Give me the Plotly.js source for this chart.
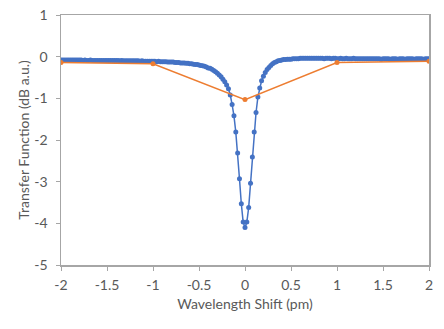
<!DOCTYPE html>
<html><head><meta charset="utf-8">
<script src="https://cdn.plot.ly/plotly-3.0.1.min.js"></script>
<style>html,body{margin:0;padding:0;background:#fff}#c{width:444px;height:329px;outline:1px solid #d9d9d9;outline-offset:-1px}</style>
</head><body><div id="c"></div>
<script>
const measX = [
-2,-1.98,-1.96,-1.94,-1.92,-1.9,-1.88,-1.86,-1.84,-1.82,
-1.8,-1.78,-1.76,-1.74,-1.72,-1.7,-1.68,-1.66,-1.64,-1.62,
-1.6,-1.58,-1.56,-1.54,-1.52,-1.5,-1.48,-1.46,-1.44,-1.42,
-1.4,-1.38,-1.36,-1.34,-1.32,-1.3,-1.28,-1.26,-1.24,-1.22,
-1.2,-1.18,-1.16,-1.14,-1.12,-1.1,-1.08,-1.06,-1.04,-1.02,
-1,-0.98,-0.96,-0.94,-0.92,-0.9,-0.88,-0.86,-0.84,-0.82,
-0.8,-0.78,-0.76,-0.74,-0.72,-0.7,-0.68,-0.66,-0.64,-0.62,
-0.6,-0.58,-0.56,-0.54,-0.52,-0.5,-0.48,-0.46,-0.44,-0.42,
-0.4,-0.38,-0.36,-0.34,-0.32,-0.3,-0.28,-0.26,-0.24,-0.22,
-0.2,-0.18,-0.16,-0.14,-0.12,-0.1,-0.08,-0.06,-0.04,-0.02,
0,
0.02,0.04,0.06,0.08,0.1,0.12,0.14,0.16,0.18,0.2,
0.22,0.24,0.26,0.28,0.3,0.32,0.34,0.36,0.38,0.4,
0.42,0.44,0.46,0.48,0.5,0.52,0.54,0.56,0.58,0.6,
0.62,0.64,0.66,0.68,0.7,0.72,0.74,0.76,0.78,0.8,
0.82,0.84,0.86,0.88,0.9,0.92,0.94,0.96,0.98,1,
1.02,1.04,1.06,1.08,1.1,1.12,1.14,1.16,1.18,1.2,
1.22,1.24,1.26,1.28,1.3,1.32,1.34,1.36,1.38,1.4,
1.42,1.44,1.46,1.48,1.5,1.52,1.54,1.56,1.58,1.6,
1.62,1.64,1.66,1.68,1.7,1.72,1.74,1.76,1.78,1.8,
1.82,1.84,1.86,1.88,1.9,1.92,1.94,1.96,1.98,2
];
const measY = [
-0.08,-0.08,-0.08,-0.08,-0.08,-0.08,-0.08,-0.08,-0.08,-0.08,
-0.08,-0.08,-0.09,-0.08,-0.09,-0.09,-0.08,-0.09,-0.09,-0.09,
-0.09,-0.09,-0.09,-0.09,-0.09,-0.09,-0.09,-0.09,-0.09,-0.09,
-0.09,-0.09,-0.10,-0.09,-0.10,-0.10,-0.10,-0.10,-0.10,-0.10,
-0.10,-0.10,-0.10,-0.11,-0.10,-0.11,-0.11,-0.11,-0.11,-0.11,
-0.11,-0.11,-0.12,-0.11,-0.12,-0.12,-0.12,-0.12,-0.13,-0.13,
-0.13,-0.13,-0.14,-0.14,-0.14,-0.15,-0.15,-0.15,-0.16,-0.16,
-0.17,-0.17,-0.18,-0.19,-0.19,-0.20,-0.21,-0.22,-0.23,-0.25,
-0.27,-0.28,-0.30,-0.33,-0.36,-0.40,-0.44,-0.48,-0.54,-0.60,
-0.68,-0.77,-0.92,-1.15,-1.42,-1.81,-2.31,-2.93,-3.53,-3.97,
-4.10,
-3.97,-3.62,-3.04,-2.41,-1.81,-1.34,-0.97,-0.75,-0.58,-0.47,
-0.38,-0.31,-0.26,-0.21,-0.17,-0.14,-0.12,-0.10,-0.09,-0.08,
-0.07,-0.07,-0.06,-0.06,-0.06,-0.05,-0.05,-0.05,-0.05,-0.04,
-0.04,-0.04,-0.04,-0.04,-0.04,-0.04,-0.04,-0.04,-0.04,-0.04,
-0.04,-0.04,-0.05,-0.04,-0.04,-0.04,-0.05,-0.04,-0.04,-0.05,
-0.05,-0.04,-0.05,-0.05,-0.04,-0.05,-0.05,-0.05,-0.04,-0.05,
-0.05,-0.05,-0.05,-0.05,-0.05,-0.05,-0.05,-0.05,-0.05,-0.05,
-0.05,-0.05,-0.05,-0.06,-0.05,-0.05,-0.05,-0.05,-0.06,-0.05,
-0.05,-0.05,-0.06,-0.05,-0.05,-0.05,-0.06,-0.05,-0.05,-0.05,
-0.05,-0.06,-0.05,-0.05,-0.05,-0.05,-0.06,-0.05,-0.05,-0.05
];
const sampX = [-2, -1, 0, 1, 2];
const sampY = [-0.14, -0.17, -1.03, -0.14, -0.11];
const xTickVals = [-2, -1.5, -1, -0.5, 0, 0.5, 1, 1.5, 2];
const xTickText = ["-2", "-1.5", "-1", "-0.5", "0", "0.5", "1", "1.5", "2"];
const yTickVals = [-5, -4, -3, -2, -1, 0, 1];
const yTickText = ["-5", "-4", "-3", "-2", "-1", "0", "1"];

const fnt = {family: "Lato, 'Open Sans', sans-serif", size: 14, color: "#595959"};
const axisCommon = {
  showline: true, mirror: true, linecolor: "#a6a6a6", linewidth: 1.5,
  showgrid: false, zeroline: false, ticks: "outside", ticklen: 4,
  tickcolor: "#a6a6a6", tickwidth: 1, tickfont: fnt, tickmode: "array"
};
const traces = [
  {x: measX, y: measY, type: "scatter", mode: "lines+markers",
   line: {color: "#4472c4", width: 1.5}, marker: {color: "#4472c4", size: 5}},
  {x: sampX, y: sampY, type: "scatter", mode: "lines+markers",
   line: {color: "#ed7d31", width: 1.5}, marker: {color: "#ed7d31", size: 5}}
];
const layout = {
  width: 444, height: 329, showlegend: false,
  paper_bgcolor: "#ffffff", plot_bgcolor: "#ffffff",
  margin: {l: 61, r: 15, t: 15, b: 64},
  xaxis: Object.assign({}, axisCommon, {range: [-2, 2], tickvals: xTickVals, ticktext: xTickText,
    ticklabelstandoff: 3,
    title: {text: "Wavelength Shift (pm)", font: fnt, standoff: 7}}),
  yaxis: Object.assign({}, axisCommon, {range: [-5, 1], tickvals: yTickVals, ticktext: yTickText,
    ticklabelstandoff: 5,
    title: {text: "Transfer Function (dB a.u.)", font: fnt, standoff: 1}})
};
Plotly.newPlot("c", traces, layout, {staticPlot: true, displayModeBar: false});
</script></body></html>
